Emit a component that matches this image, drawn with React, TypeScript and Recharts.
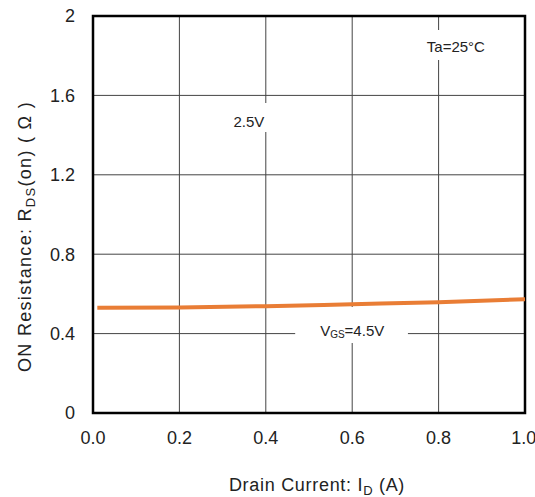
import React from 'react';
import {
  LineChart,
  Line,
  XAxis,
  YAxis,
  CartesianGrid,
  ReferenceArea,
  ReferenceDot,
} from 'recharts';

const drainCurrent = [0.01, 0.2, 0.4, 0.6, 0.8, 1.0];
const onResistance = [0.53, 0.532, 0.538, 0.548, 0.558, 0.573];
const xTicks = [0, 0.2, 0.4, 0.6, 0.8, 1.0];
const yTicks = [0, 0.4, 0.8, 1.2, 1.6, 2];

const data = drainCurrent.map((x, i) => ({ x, r: onResistance[i] }));

const FONT = '"Liberation Sans", Arial, sans-serif';
const INK = '#222';

const YTitle = (props: any) => {
  const vb = props.viewBox || {};
  const cx = 25;
  const cy = vb.y + vb.height / 2 + 22;
  return (
    <text
      x={cx}
      y={cy}
      transform={`rotate(-90 ${cx} ${cy})`}
      textAnchor="middle"
      dominantBaseline="central"
      fontFamily={FONT}
      fontSize={18}
      fill={INK}
      letterSpacing={1.3}
    >
      ON Resistance: R
      <tspan fontSize={13} dy={5}>DS</tspan>
      <tspan dy={-5}>(on) ( Ω )</tspan>
    </text>
  );
};

const XTitle = (props: any) => {
  const vb = props.viewBox || {};
  const cx = vb.x + vb.width / 2 + 8;
  return (
    <text
      x={cx}
      y={491}
      textAnchor="middle"
      fontFamily={FONT}
      fontSize={18}
      fill={INK}
      letterSpacing={0.7}
    >
      Drain Current: I
      <tspan fontSize={13} dy={4}>D</tspan>
      <tspan dy={-4}> (A)</tspan>
    </text>
  );
};

const TextLabel = (text: string) => (props: any) => {
  const vb = props.viewBox || {};
  return (
    <text
      x={vb.x}
      y={vb.y}
      textAnchor="middle"
      dominantBaseline="central"
      fontFamily={FONT}
      fontSize={15}
      fill={INK}
    >
      {text}
    </text>
  );
};

const VgsLabel = (props: any) => {
  const vb = props.viewBox || {};
  return (
    <text
      x={vb.x}
      y={vb.y}
      textAnchor="middle"
      dominantBaseline="central"
      fontFamily={FONT}
      fontSize={15}
      fill={INK}
    >
      V
      <tspan fontSize={10} dy={4}>GS</tspan>
      <tspan dy={-4}>=4.5V</tspan>
    </text>
  );
};

export default function App() {
  return (
    <div style={{ position: 'absolute', left: 0, top: 0, background: '#fff' }}>
      <LineChart
        width={535}
        height={497}
        data={data}
        margin={{ top: 16, right: 10, left: 0, bottom: 0 }}
      >
        <CartesianGrid stroke="#444" strokeWidth={1} />
        <XAxis
          dataKey="x"
          type="number"
          domain={[0, 1]}
          ticks={xTicks}
          tickFormatter={(v: number) => v.toFixed(1)}
          height={84}
          tickLine={false}
          axisLine={false}
          tickSize={6}
          tickMargin={12}
          tick={{ fontFamily: FONT, fontSize: 18, fill: INK }}
          label={<XTitle />}
        />
        <YAxis
          type="number"
          domain={[0, 2]}
          ticks={yTicks}
          tickFormatter={(v: number) => String(v)}
          width={93}
          tickLine={false}
          axisLine={false}
          tickSize={6}
          tickMargin={12}
          tick={{ fontFamily: FONT, fontSize: 18, fill: INK }}
          label={<YTitle />}
        />
        <ReferenceArea x1={0.306} x2={0.414} y1={1.416} y2={1.562} fill="#fff" fillOpacity={1} stroke="none" />
        <ReferenceArea x1={0.769} x2={0.919} y1={1.778} y2={1.93} fill="#fff" fillOpacity={1} stroke="none" />
        <ReferenceArea x1={0.468} x2={0.729} y1={0.353} y2={0.534} fill="#fff" fillOpacity={1} stroke="none" />
        <ReferenceArea x1={0} x2={1} y1={0} y2={2} fill="none" stroke="#000" strokeWidth={2.5} />
        <Line
          dataKey="r"
          type="monotone"
          stroke="#E97D35"
          strokeWidth={4}
          dot={false}
          isAnimationActive={false}
        />
        <ReferenceDot x={0.361} y={1.471} r={0} fill="none" stroke="none" label={TextLabel('2.5V')} />
        <ReferenceDot x={0.84} y={1.844} r={0} fill="none" stroke="none" label={TextLabel('Ta=25°C')} />
        <ReferenceDot x={0.6} y={0.418} r={0} fill="none" stroke="none" label={<VgsLabel />} />
      </LineChart>
    </div>
  );
}
